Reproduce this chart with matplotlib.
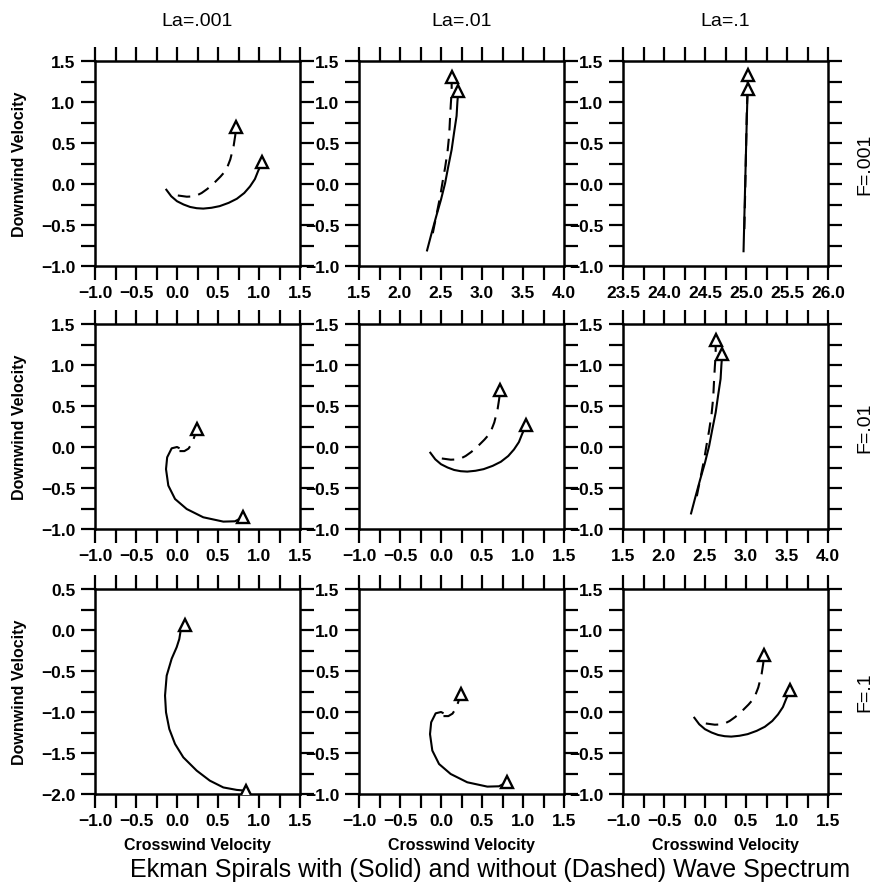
import matplotlib
matplotlib.use("Agg")
import matplotlib.pyplot as plt
from matplotlib.ticker import MultipleLocator, FuncFormatter

plt.rcParams['font.family'] = ['Liberation Sans', 'DejaVu Sans']
plt.rcParams['font.weight'] = 'bold'

# Ekman spiral hodographs (crosswind, downwind); last point is the surface value
# case A: weak Stokes drift
a_solid_x = [-0.13, -0.07, 0.00, 0.08, 0.16, 0.24, 0.32, 0.42, 0.52, 0.63, 0.73, 0.82, 0.89, 0.95, 0.99, 1.04]
a_solid_y = [-0.07, -0.15, -0.21, -0.25, -0.28, -0.295, -0.30, -0.29, -0.27, -0.23, -0.18, -0.11, -0.03, 0.06, 0.16, 0.27]
a_dash_x = [0.01, 0.12, 0.22, 0.30, 0.37, 0.45, 0.53, 0.60, 0.65, 0.69, 0.71, 0.72]
a_dash_y = [-0.14, -0.155, -0.15, -0.11, -0.06, 0.01, 0.09, 0.17, 0.30, 0.46, 0.59, 0.70]

# case B: moderate Stokes drift
b_solid_x = [2.33, 2.38, 2.44, 2.50, 2.55, 2.59, 2.63, 2.66, 2.69, 2.70, 2.71]
b_solid_y = [-0.81, -0.62, -0.40, -0.19, 0.01, 0.22, 0.42, 0.63, 0.83, 1.00, 1.13]
b_dash_x = [2.40, 2.45, 2.49, 2.52, 2.55, 2.58, 2.60, 2.61, 2.62, 2.63, 2.63]
b_dash_y = [-0.60, -0.35, -0.15, 0.03, 0.20, 0.40, 0.60, 0.80, 0.98, 1.12, 1.30]

# case C: strong Stokes drift
c_solid_x = [24.97, 24.98, 24.99, 25.00, 25.01, 25.02]
c_solid_y = [-0.82, -0.40, 0.00, 0.40, 0.80, 1.16]
c_dash_x = [24.98, 24.99, 25.00, 25.01, 25.02, 25.02]
c_dash_y = [-0.55, -0.10, 0.40, 0.90, 1.16, 1.33]

# case D
d_solid_x = [0.02, 0.00, -0.065, -0.12, -0.134, -0.106, -0.024, 0.118, 0.32, 0.565, 0.707, 0.80]
d_solid_y = [-0.01, 0.00, -0.016, -0.126, -0.27, -0.47, -0.634, -0.756, -0.857, -0.91, -0.906, -0.857]
d_dash_x = [0.03, 0.09, 0.14, 0.18, 0.21, 0.24]
d_dash_y = [-0.05, -0.05, -0.02, 0.04, 0.12, 0.22]

# case E
e_solid_x = [0.049, 0.028, -0.004, -0.065, -0.126, -0.146, -0.134, -0.094, -0.024, 0.077, 0.24, 0.40, 0.565, 0.728, 0.84]
e_solid_y = [0.02, -0.11, -0.21, -0.35, -0.557, -0.80, -1.004, -1.207, -1.39, -1.553, -1.715, -1.837, -1.92, -1.95, -1.96]
e_dash_x = [0.04, 0.07, 0.10]
e_dash_y = [0.00, 0.035, 0.065]

cases = {
    'A': (a_solid_x, a_solid_y, a_dash_x, a_dash_y),
    'B': (b_solid_x, b_solid_y, b_dash_x, b_dash_y),
    'C': (c_solid_x, c_solid_y, c_dash_x, c_dash_y),
    'D': (d_solid_x, d_solid_y, d_dash_x, d_dash_y),
    'E': (e_solid_x, e_solid_y, e_dash_x, e_dash_y),
}

col_titles = ['La=.001', 'La=.01', 'La=.1']
row_titles = ['F=.001', 'F=.01', 'F=.1']
grid = [['A', 'B', 'C'],
        ['D', 'A', 'B'],
        ['E', 'D', 'A']]
xlims = [[(-1.0, 1.5), (1.5, 4.0), (23.5, 26.0)],
         [(-1.0, 1.5), (-1.0, 1.5), (1.5, 4.0)],
         [(-1.0, 1.5), (-1.0, 1.5), (-1.0, 1.5)]]
ylims = [[(-1.0, 1.5), (-1.0, 1.5), (-1.0, 1.5)],
         [(-1.0, 1.5), (-1.0, 1.5), (-1.0, 1.5)],
         [(-2.0, 0.5), (-1.0, 1.5), (-1.0, 1.5)]]

W, H = 875, 887
fig = plt.figure(figsize=(W / 100, H / 100), dpi=100)

lefts = [95, 359, 623]
tops = [62, 325, 590]
size = 205


def fmt(v, pos):
    s = '%.1f' % (round(v, 2) + 0.0)
    return s.replace('-', '\u2212')


for r in range(3):
    for c in range(3):
        ax = fig.add_axes([lefts[c] / W, 1 - (tops[r] + size) / H, size / W, size / H])
        sx, sy, dx, dy = cases[grid[r][c]]
        ax.plot(dx, dy, color='black', lw=1.5, dashes=(6, 4), zorder=2)
        ax.plot(sx, sy, color='black', lw=1.5, zorder=3)
        for xs, ys in ((dx, dy), (sx, sy)):
            ax.plot(xs[-1], ys[-1], marker='^', ms=8, mfc='white', mec='black',
                    mew=1.7, ls='none', zorder=4)
        ax.set_xlim(*xlims[r][c])
        ax.set_ylim(*ylims[r][c])
        for axis in (ax.xaxis, ax.yaxis):
            axis.set_major_locator(MultipleLocator(0.5))
            axis.set_minor_locator(MultipleLocator(0.25))
            axis.set_major_formatter(FuncFormatter(fmt))
        ax.tick_params(which='both', direction='out', length=10, width=1.6,
                       top=True, right=True, labelsize=12.5, pad=4)
        for sp in ax.spines.values():
            sp.set_linewidth(1.8)

        if r == 0:
            fig.text((lefts[c] + size / 2) / W, 1 - 21 / H, col_titles[c],
                     ha='center', va='center', fontsize=14, fontweight='normal')
        if c == 0:
            fig.text(20 / W, 1 - (tops[r] + size / 2) / H, 'Downwind Velocity',
                     rotation=90, ha='center', va='center', fontsize=11.5)
        if c == 2:
            fig.text(865 / W, 1 - (tops[r] + size / 2) / H, row_titles[r],
                     rotation=90, ha='center', va='center', fontsize=14,
                     fontweight='normal')
        if r == 2:
            fig.text((lefts[c] + size / 2) / W, 1 - 846 / H, 'Crosswind Velocity',
                     ha='center', va='center', fontsize=11.5)

fig.text(490 / W, 1 - 870 / H,
         'Ekman Spirals with (Solid) and without (Dashed) Wave Spectrum',
         ha='center', va='center', fontsize=18, fontweight='normal')

fig.savefig('out.png', dpi=100)
